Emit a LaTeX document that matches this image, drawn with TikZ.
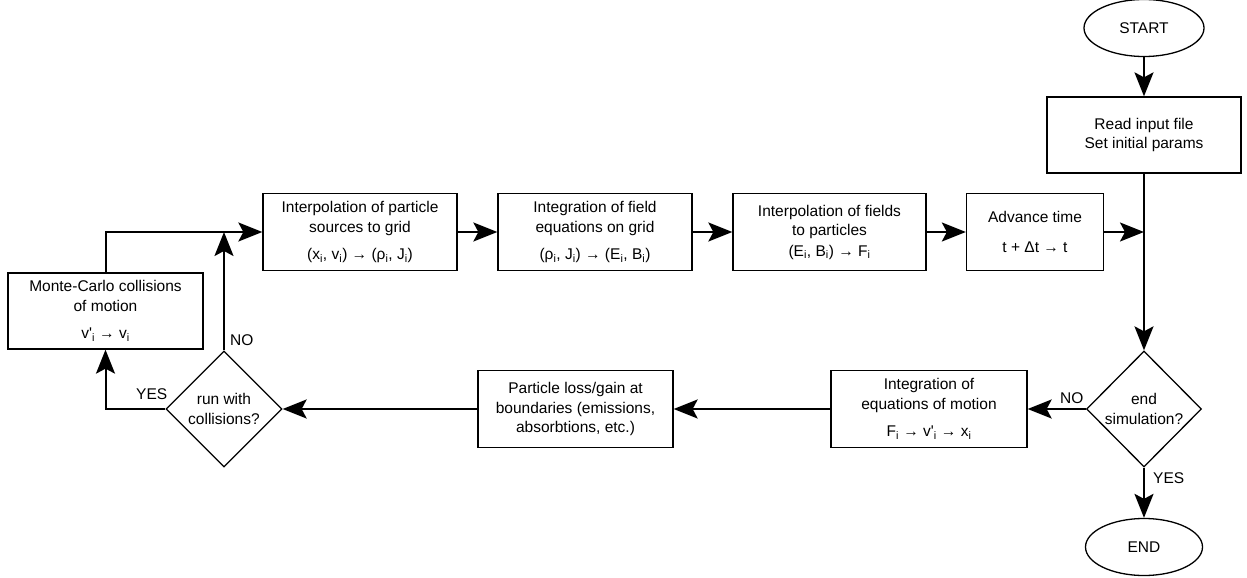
\documentclass[tikz,border=0pt]{standalone}
\usepackage{fontspec}
\setmainfont{Liberation Sans}
\usetikzlibrary{shapes.geometric,arrows.meta}
\newcommand\ix{\textsubscript{i}}
\newcommand\vpr{v\textquotesingle\ix}
\begin{document}
\begin{tikzpicture}[x=1pt,y=-1pt,every node/.style={font=\fontsize{15.5}{19.5}\selectfont},
 box/.style={draw,line width=1.3pt,align=center,minimum height=77pt,inner sep=0pt},
 test/.style={draw,diamond,line width=1.3pt,align=center,minimum width=116pt,minimum height=116pt,inner sep=0pt},
 term/.style={draw,ellipse,line width=1.3pt,minimum width=120pt,minimum height=57pt,inner sep=0pt},
 flow/.style={line width=2pt,-{Stealth[length=24pt,width=19pt,inset=5pt]}},
 lbl/.style={inner sep=0pt,anchor=base west}]
\useasboundingbox(0,0)rectangle(1247,578);
% right column
\node[term](start)at(1144,28){START};
\node[box,minimum width=194pt,minimum height=76pt](read)at(1144,135){Read input file\\Set initial params};
\node[test,minimum width=115pt](dend)at(1144,409){end\\simulation?};
\node[term,minimum width=117pt](stop)at(1144,547){END};
\coordinate(J)at(1144,232);
% top row
\node[box,minimum width=194pt](interp)at(360,232){Interpolation of particle\\sources to grid\\[8pt](x\ix, v\ix) → (ρ\ix, J\ix)};
\node[box,minimum width=194pt](field)at(595,232){Integration of field\\equations on grid\\[8pt](ρ\ix, J\ix) → (E\ix, B\ix)};
\node[box,minimum width=193pt](topart)at(829.5,232){Interpolation of fields\\to particles\\[1pt](E\ix, B\ix) → F\ix};
\node[box,minimum width=137pt](adv)at(1035,232){Advance time\\[11pt]t + Δt → t};
% bottom row
\node[box,minimum width=195pt,minimum height=76pt](mcc)at(105.5,311){Monte-Carlo collisions\\of motion\\[8pt]\vpr{} → v\ix};
\node[test](dcoll)at(224,409){run with\\collisions?};
\node[box,minimum width=195pt](loss)at(575.5,409){Particle loss/gain at\\boundaries (emissions,\\absorbtions, etc.)};
\node[box,minimum width=196pt](eqm)at(929,409){Integration of\\equations of motion\\[8pt]F\ix{} → \vpr{} → x\ix};
% connectors
\draw[flow](start)--(read);\draw[flow](read)--(dend);\draw[flow](dend)--(stop);
\draw[flow](interp)--(field);\draw[flow](field)--(topart);\draw[flow](topart)--(adv);\draw[flow](adv)--(J);
\draw[flow](dend)--(eqm);\draw[flow](eqm)--(loss);\draw[flow](loss)--(dcoll);
\draw[flow](dcoll.west)-|(mcc.south);
\draw[flow](dcoll.north)--(dcoll.north|-interp.west);
\draw[flow](mcc.north)|-(interp.west);
\node[lbl](no1)at(230,345){NO};\node[lbl](yes1)at(136,399){YES};
\node[lbl](no2)at(1060,403){NO};\node[lbl](yes2)at(1153,483){YES};
\end{tikzpicture}
\end{document}
